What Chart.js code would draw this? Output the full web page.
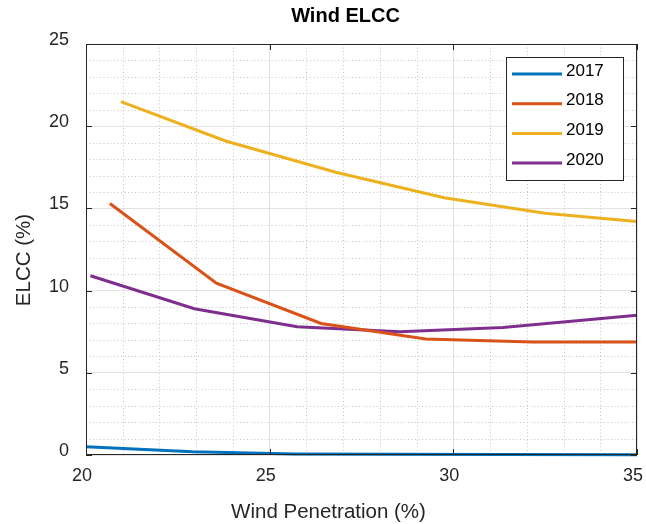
<!DOCTYPE html>
<html>
<head>
<meta charset="utf-8">
<script src="https://cdn.jsdelivr.net/npm/chart.js"></script>
<style>
  html, body { margin: 0; padding: 0; background: #fff; }
  #wrap { width: 646px; height: 524px; }
</style>
</head>
<body>
<div id="wrap"><canvas id="chart"></canvas></div>
<script>
    'use strict';

    // Data
    const labels2017 = '2017', labels2018 = '2018', labels2019 = '2019', labels2020 = '2020';
    const x2017 = [20, 22.9, 25.7, 28.5, 31.3, 35];
    const y2017 = [0.5, 0.2, 0.06, 0.05, 0.03, 0.02];
    const x2018 = [20.65, 23.55, 26.4, 29.25, 32.15, 35];
    const y2018 = [15.3, 10.45, 8.0, 7.05, 6.87, 6.88];
    const x2019 = [20.95, 23.8, 26.8, 29.75, 32.5, 35];
    const y2019 = [21.5, 19.1, 17.2, 15.65, 14.7, 14.2];
    const x2020 = [20.12, 22.95, 25.75, 28.55, 31.35, 35];
    const y2020 = [10.9, 8.9, 7.8, 7.5, 7.75, 8.5];

    const xTicks = [20, 25, 30, 35];
    const yTicks = [0, 5, 10, 15, 20, 25];

    const TITLE = 'Wind ELCC';
    const X_LABEL = 'Wind Penetration (%)';
    const Y_LABEL = 'ELCC (%)';

    const FONT = "'Liberation Sans', Arial, sans-serif";
    const AXIS_COLOR = '#262626';

    function toPoints(xs, ys) {
        return xs.map((x, i) => ({ x: x, y: ys[i] }));
    }

    function makeSeries(label, xs, ys, color) {
        return {
            label: label,
            data: toPoints(xs, ys),
            borderColor: color,
            backgroundColor: color,
            borderWidth: 3,
            pointRadius: 0,
            tension: 0,
            fill: false,
            clip: 3
        };
    }

    // Minor dotted grid, box and inward ticks (MATLAB look)
    const matlabAxes = {
        id: 'matlabAxes',
        beforeDatasetsDraw(chart) {
            const { ctx, chartArea: a, scales: { x, y } } = chart;
            ctx.save();
            ctx.strokeStyle = '#c4c4c4';
            ctx.lineWidth = 1;
            ctx.setLineDash([1, 2.5]);
            for (let v = x.min + 1; v < x.max; v++) {
                if (v % 5 === 0) continue;
                const px = Math.round(x.getPixelForValue(v)) + 0.5;
                ctx.beginPath(); ctx.moveTo(px, a.top); ctx.lineTo(px, a.bottom); ctx.stroke();
            }
            for (let v = y.min + 1; v < y.max; v++) {
                if (v % 5 === 0) continue;
                const py = Math.round(y.getPixelForValue(v)) + 0.5;
                ctx.beginPath(); ctx.moveTo(a.left, py); ctx.lineTo(a.right, py); ctx.stroke();
            }
            ctx.restore();
        },
        afterDatasetsDraw(chart) {
            const { ctx, chartArea: a, scales: { x, y } } = chart;
            ctx.save();
            ctx.strokeStyle = AXIS_COLOR;
            ctx.lineWidth = 1;
            ctx.setLineDash([]);
            ctx.strokeRect(a.left + 0.5, a.top + 0.5, a.right - a.left - 1, a.bottom - a.top - 1);
            const len = 6;
            ctx.beginPath();
            xTicks.forEach(v => {
                const px = Math.round(x.getPixelForValue(v)) + 0.5;
                ctx.moveTo(px, a.bottom); ctx.lineTo(px, a.bottom - len);
                ctx.moveTo(px, a.top); ctx.lineTo(px, a.top + len);
            });
            yTicks.forEach(v => {
                const py = Math.round(y.getPixelForValue(v)) + 0.5;
                ctx.moveTo(a.left, py); ctx.lineTo(a.left + len, py);
                ctx.moveTo(a.right, py); ctx.lineTo(a.right - len, py);
            });
            ctx.stroke();
            ctx.restore();
        },
        afterDraw(chart) {
            const { ctx } = chart;
            ctx.save();
            ctx.textAlign = 'center';
            ctx.textBaseline = 'middle';
            // title
            ctx.fillStyle = '#000';
            ctx.font = 'bold 20px ' + FONT;
            ctx.fillText(TITLE, 345.5, 16);
            // axis labels
            ctx.fillStyle = AXIS_COLOR;
            ctx.font = '20.5px ' + FONT;
            ctx.fillText(X_LABEL, 328.5, 512);
            ctx.translate(24.5, 260);
            ctx.rotate(-Math.PI / 2);
            ctx.fillText(Y_LABEL, 0, 0);
            ctx.restore();

            // legend box, built from the datasets
            const boxL = 506, boxT = 57, boxW = 117, boxH = 123;
            ctx.save();
            ctx.fillStyle = '#fff';
            ctx.fillRect(boxL, boxT, boxW, boxH);
            ctx.strokeStyle = AXIS_COLOR;
            ctx.lineWidth = 1;
            ctx.strokeRect(boxL + 0.5, boxT + 0.5, boxW, boxH);
            ctx.font = '17px ' + FONT;
            ctx.textAlign = 'left';
            ctx.textBaseline = 'middle';
            chart.data.datasets.forEach((ds, i) => {
                const cy = 74 + i * 29.7;
                ctx.strokeStyle = ds.borderColor;
                ctx.lineWidth = 3;
                ctx.beginPath(); ctx.moveTo(512, cy); ctx.lineTo(562, cy); ctx.stroke();
                ctx.fillStyle = '#000';
                ctx.fillText(ds.label, 566, cy - 3);
            });
            ctx.restore();
        }
    };

    function drawChart() {
        const canvas = document.getElementById('chart');
        new Chart(canvas.getContext('2d'), {
            type: 'line',
            data: {
                datasets: [
                    makeSeries(labels2017, x2017, y2017, '#0072BD'),
                    makeSeries(labels2018, x2018, y2018, '#D95319'),
                    makeSeries(labels2019, x2019, y2019, '#EDB120'),
                    makeSeries(labels2020, x2020, y2020, '#7E2F8E')
                ]
            },
            options: {
                responsive: true,
                maintainAspectRatio: false,
                animation: false,
                layout: { padding: { left: 0, right: 9, top: 44, bottom: 0 } },
                plugins: {
                    legend: { display: false },
                    title: { display: false },
                    tooltip: { enabled: false }
                },
                scales: {
                    x: {
                        type: 'linear',
                        min: 20,
                        max: 35,
                        afterFit: s => { s.height = 69; s.paddingLeft = 0; s.paddingRight = 0; },
                        afterBuildTicks: s => { s.ticks = xTicks.map(v => ({ value: v })); },
                        grid: { color: '#e2e2e2', drawTicks: false },
                        border: { display: false },
                        ticks: {
                            color: AXIS_COLOR,
                            font: { family: FONT, size: 18 },
                            padding: 10,
                            labelOffset: -4,
                            maxRotation: 0
                        }
                    },
                    y: {
                        type: 'linear',
                        min: 0,
                        max: 25,
                        afterFit: s => { s.width = 86; s.paddingTop = 0; s.paddingBottom = 0; },
                        afterBuildTicks: s => { s.ticks = yTicks.map(v => ({ value: v })); },
                        grid: { color: '#e2e2e2', drawTicks: false },
                        border: { display: false },
                        ticks: {
                            color: AXIS_COLOR,
                            font: { family: FONT, size: 18 },
                            padding: 17,
                            labelOffset: -4
                        }
                    }
                }
            },
            plugins: [matlabAxes]
        });
    }

    drawChart();
</script>
</body>
</html>
